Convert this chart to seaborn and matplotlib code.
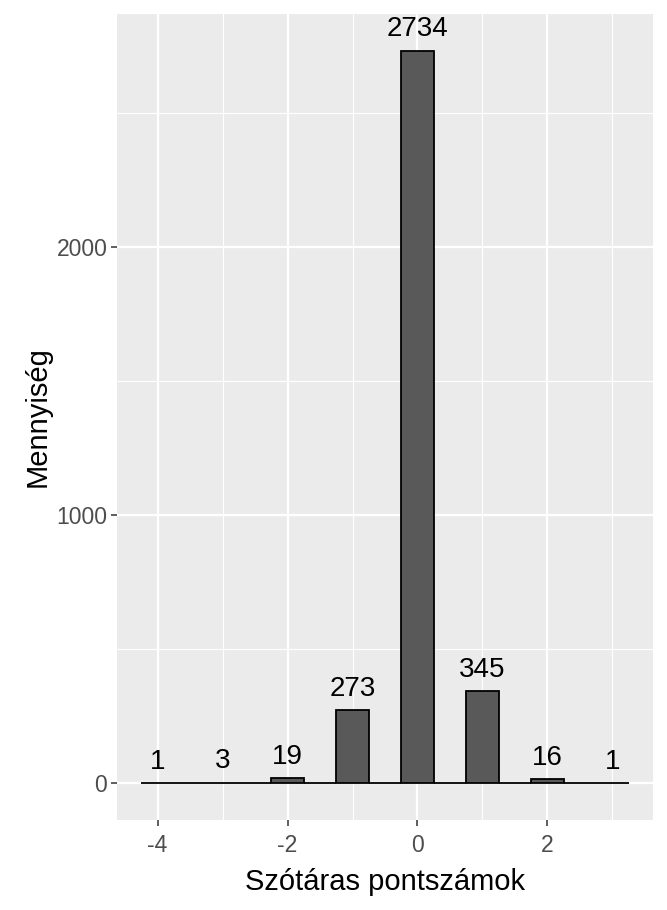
import numpy as np
import pandas as pd
import seaborn as sns
import matplotlib.pyplot as plt
from matplotlib.ticker import MultipleLocator

## adatok
pontszamok = [-4, -3, -2, -1, 0, 1, 2, 3]
mennyiseg = [1, 3, 19, 273, 2734, 345, 16, 1]

tabela = pd.DataFrame({"pont": pontszamok, "db": mennyiseg})

sns.set_theme(style="darkgrid")
plt.rcParams['font.family'] = ['Liberation Sans', 'DejaVu Sans']
plt.rcParams['axes.unicode_minus'] = False

fig = plt.figure(figsize=(6.67, 9.1), dpi=100)
ax = fig.add_axes([117 / 667, 1 - 820 / 910, 536 / 667, 806 / 910])
ax.set_facecolor('#EBEBEB')

# hisztogram 0.5-os binekkel, az ures binek vonalkent latszanak
sns.histplot(data=tabela, x="pont", weights="db", binwidth=0.5,
             binrange=(-4.25, 3.25), color='#595959', edgecolor='black',
             linewidth=1.3, alpha=1, ax=ax, zorder=3)

# feliratok
for p, n in zip(pontszamok, mennyiseg):
    ax.annotate(str(n), (p, n), xytext=(0, 6), textcoords='offset points',
                ha='center', va='bottom', fontsize=20, color='black')

ax.set_xlim(-4.625, 3.625)
ax.set_ylim(-136.7, 2870.7)
ax.xaxis.set_major_locator(MultipleLocator(2))
ax.xaxis.set_minor_locator(MultipleLocator(1))
ax.yaxis.set_major_locator(MultipleLocator(1000))
ax.yaxis.set_minor_locator(MultipleLocator(500))
ax.grid(which='major', color='white', linewidth=1.6, zorder=0)
ax.grid(which='minor', color='white', linewidth=0.8, zorder=0)
ax.set_axisbelow(True)
for s in ax.spines.values():
    s.set_visible(False)

ax.tick_params(axis='both', which='major', length=4, width=1.1, color='#333333',
               labelsize=16.5, labelcolor='#4D4D4D', pad=3, bottom=True, left=True)
ax.tick_params(axis='x', which='major', pad=6)
ax.tick_params(axis='both', which='minor', length=0)

ax.set_xlabel("Szótáras pontszámok", fontsize=21, color='black', labelpad=8)
ax.set_ylabel("Mennyiség", fontsize=21, color='black', labelpad=3)

plt.savefig("out.png", dpi=100)
